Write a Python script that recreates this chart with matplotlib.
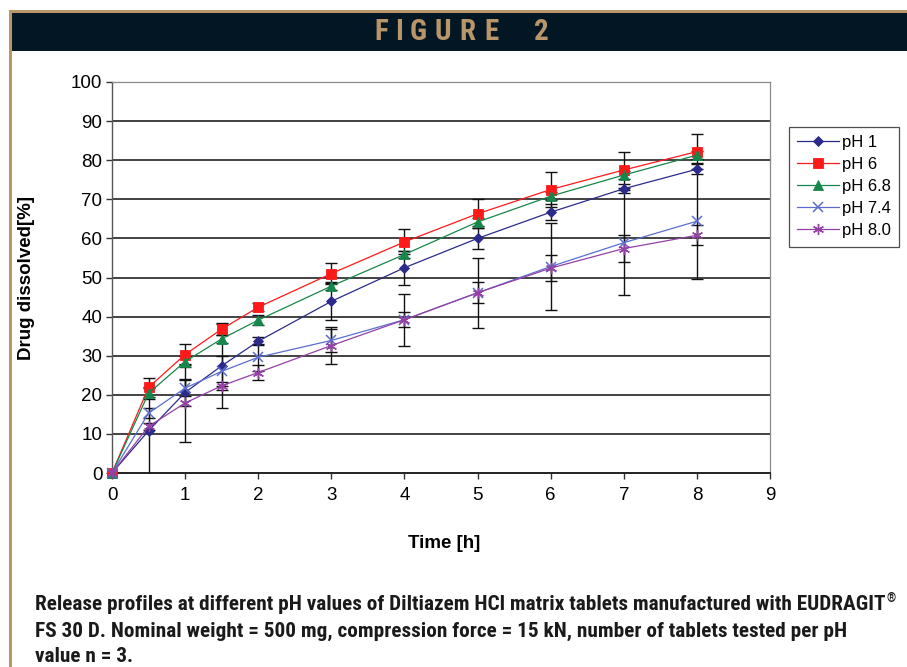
import matplotlib
matplotlib.use("Agg")
import matplotlib.pyplot as plt
from matplotlib import font_manager
from matplotlib.font_manager import FontProperties
from matplotlib.patches import Rectangle
from matplotlib.lines import Line2D

plt.rcParams['font.family'] = ['Liberation Sans', 'DejaVu Sans']

# Sampling times [h]
times = [0, 0.5, 1, 1.5, 2, 3, 4, 5, 6, 7, 8]

# Mean drug dissolved [%] per pH
ph1 = [0, 10.8, 20.6, 27.4, 33.7, 43.9, 52.5, 60.0, 66.7, 72.7, 77.7]
ph6 = [0, 21.9, 30.3, 36.8, 42.4, 51.0, 59.1, 66.3, 72.5, 77.5, 82.2]
ph68 = [0, 20.4, 28.5, 34.3, 39.1, 47.8, 55.9, 64.2, 70.8, 76.2, 81.3]
ph74 = [0, 15.3, 21.7, 26.0, 29.6, 33.9, 39.2, 46.1, 52.8, 58.9, 64.4]
ph80 = [0, 11.9, 17.9, 22.3, 25.7, 32.6, 39.2, 46.1, 52.4, 57.4, 60.8]

# Standard deviations (n = 3)
ph1_err = [0, 11.0, 3.5, 10.8, 1.0, 4.7, 4.3, 2.6, 2.0, 1.2, 1.3]
ph6_err = [0, 2.5, 2.7, 1.6, 1.0, 2.6, 3.2, 3.7, 4.5, 4.7, 4.5]
ph68_err = [0, 1.5, 1.5, 1.0, 1.2, 1.0, 1.0, 1.0, 1.0, 1.0, 1.0]
ph74_err = [0, 1.3, 2.0, 3.8, 3.4, 2.9, 6.6, 9.0, 11.2, 13.4, 14.9]
ph80_err = [0, 1.0, 10.0, 1.1, 1.9, 4.7, 1.9, 2.7, 3.4, 3.4, 2.6]

series_labels = ["pH 1", "pH 6", "pH 6.8", "pH 7.4", "pH 8.0"]
x_ticks = list(range(0, 10))
y_ticks = list(range(0, 101, 10))

W, H = 907, 667
fig = plt.figure(figsize=(W / 100, H / 100), dpi=100)

GOLD = '#B8966A'
NAVY = '#021624'


def condensed_bold():
    """Pick a bold condensed face if one is installed."""
    cands = []
    for f in font_manager.fontManager.ttflist:
        stretch = str(f.stretch).lower()
        narrow = ('narrow' in f.name.lower() or 'condensed' in f.name.lower()
                  or 'condensed' in stretch or 'narrow' in f.fname.lower()
                  or 'condensed' in f.fname.lower())
        w = f.weight if isinstance(f.weight, int) else (700 if 'bold' in str(f.weight) else 400)
        if narrow and w >= 600 and 'oblique' not in f.style and 'italic' not in f.style:
            cands.append(f)
    pref = ['Liberation Sans Narrow', 'Roboto Condensed', 'Open Sans Condensed',
            'Noto Sans', 'DejaVu Sans']
    cands.sort(key=lambda f: next((i for i, p in enumerate(pref) if p in f.name), 99))
    if cands:
        return FontProperties(fname=cands[0].fname)
    return FontProperties(family='Liberation Sans', weight='bold')


cond = condensed_bold()

# Header band and gold frame
fig.patches.append(Rectangle((9 / W, 1 - 51 / H), 1 - 9 / W, 40 / H,
                             transform=fig.transFigure, facecolor=NAVY,
                             edgecolor='none', zorder=0))
fig.add_artist(Line2D([9.5 / W, 1], [1 - 11 / H, 1 - 11 / H],
                      transform=fig.transFigure, color=GOLD, lw=2.2))
fig.add_artist(Line2D([9.5 / W, 9.5 / W], [0, 1 - 11 / H],
                      transform=fig.transFigure, color=GOLD, lw=2.2))

title_chars = "FIGURE2"
title_x = [381.7, 399, 418, 442.5, 467.5, 491.7, 541.7]
for ch, px in zip(title_chars, title_x):
    t = fig.text(px / W, 1 - 32 / H, ch, ha='center', va='center',
                 color=GOLD, fontproperties=cond)
    t.set_fontsize(21)

# Plot area
ax = fig.add_axes([112 / W, (H - 473) / H, (770 - 112) / W, (473 - 82) / H])
ax.set_xlim(0, 9)
ax.set_ylim(0, 100)
ax.set_xticks(x_ticks)
ax.set_yticks(y_ticks)
ax.tick_params(axis='both', direction='out', length=4, width=1,
               color='#333333', labelsize=13.5, pad=3)
ax.tick_params(axis='x', pad=6)
for yv in y_ticks[1:-1]:
    ax.axhline(yv, color='#222222', lw=1.2, zorder=1)
for side in ['top', 'right']:
    ax.spines[side].set_color('#8a8a8a')
    ax.spines[side].set_linewidth(0.9)
ax.spines['left'].set_color('#555555')
ax.spines['left'].set_linewidth(1.0)
ax.spines['bottom'].set_color('#222222')
ax.spines['bottom'].set_linewidth(1.4)

styles = [
    dict(color='#2B2B8C', marker='D', ms=5.5),
    dict(color='#FF1A1A', marker='s', ms=6.5),
    dict(color='#16874A', marker='^', ms=7),
    dict(color='#5B6ECF', marker='x', ms=7, mew=1.1),
    dict(color='#9441A5', marker=(6, 2, 0), ms=8, mew=1.0),
]
data = [ph1, ph6, ph68, ph74, ph80]
errs = [ph1_err, ph6_err, ph68_err, ph74_err, ph80_err]

handles = []
for vals, err, lab, st in zip(data, errs, series_labels, styles):
    ax.errorbar(times, vals, yerr=err, fmt='none', ecolor='#111111',
                elinewidth=1.0, capsize=4, capthick=1.0, zorder=3)
    h, = ax.plot(times, vals, color=st['color'], lw=0.9, marker=st['marker'],
                 ms=st['ms'], mew=st.get('mew', 0.6), mec=st['color'],
                 mfc=st['color'], label=lab, zorder=4, clip_on=False)
    handles.append(h)

ax.set_ylabel("Drug dissolved[%]", fontsize=13.5, fontweight='bold',
              labelpad=0)
ax.yaxis.set_label_coords((35 - 112) / (770 - 112), 0.5)
ax.set_xlabel("Time [h]", fontsize=13.5, fontweight='bold')
ax.xaxis.set_label_coords((444 - 112) / (770 - 112), -(535 - 473) / (473 - 82))

leg = ax.legend(handles=handles, loc='upper left',
                bbox_to_anchor=(789 / W, 1 - 127 / H),
                bbox_transform=fig.transFigure, fontsize=12, frameon=True,
                fancybox=False, edgecolor='#222222', borderpad=0.5,
                handlelength=2.5, handletextpad=0.15, labelspacing=0.42,
                borderaxespad=0)
leg.get_frame().set_linewidth(0.9)

# Caption
cap_lines = [
    "Release profiles at different pH values of Diltiazem HCl matrix tablets manufactured with EUDRAGIT",
    "FS 30 D. Nominal weight = 500 mg, compression force = 15 kN, number of tablets tested per pH",
    "value n = 3.",
]
cap_y = [605, 631, 656]
renderer = fig.canvas.get_renderer()

# Size the caption so that its first line spans the full text block width
probe = fig.text(0, 0, cap_lines[0], fontproperties=cond)
probe.set_fontsize(13)
pw = probe.get_window_extent(renderer=renderer).width
probe.remove()
cap_size = min(16, 13 * (884 - 35) / pw)

texts = []
for line, yy in zip(cap_lines, cap_y):
    t = fig.text(35 / W, 1 - yy / H, line, ha='left', va='center',
                 color='#1a1a1a', fontproperties=cond)
    t.set_fontsize(cap_size)
    texts.append(t)

bb = texts[0].get_window_extent(renderer=renderer)
reg = fig.text((bb.x1 + 1) / W, 1 - 599 / H, "®", ha='left', va='center',
               color='#1a1a1a', fontproperties=cond)
reg.set_fontsize(cap_size * 0.55)

fig.savefig("out.png", dpi=100)
